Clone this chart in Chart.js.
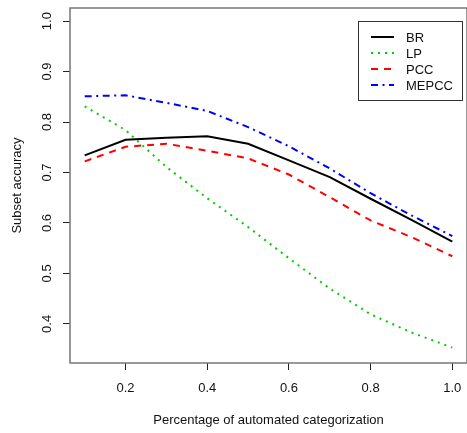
<!DOCTYPE html>
<html>
<head>
<meta charset="utf-8">
<script src="https://cdn.jsdelivr.net/npm/chart.js@4.4.1/dist/chart.umd.min.js"></script>
<style>
  body { margin: 0; background: #fff; }
  #wrap { width: 467px; height: 433px; position: relative; }
</style>
</head>
<body>
<div id="wrap"><canvas id="chart"></canvas></div>
<script>
// share of automated categorization on x
const xValues = [0.1, 0.2, 0.3, 0.4, 0.5, 0.6, 0.7, 0.8, 0.9, 1.0];
const brValues = [0.734, 0.765, 0.769, 0.772, 0.757, 0.724, 0.691, 0.648, 0.606, 0.563];
const lpValues = [0.831, 0.784, 0.711, 0.649, 0.592, 0.530, 0.470, 0.419, 0.383, 0.353];
const pccValues = [0.722, 0.751, 0.757, 0.743, 0.728, 0.696, 0.651, 0.605, 0.572, 0.534];
const mepccValues = [0.851, 0.853, 0.838, 0.822, 0.790, 0.752, 0.708, 0.659, 0.615, 0.574];
const seriesNames = ['BR', 'LP', 'PCC', 'MEPCC'];
const xTicks = [0.2, 0.4, 0.6, 0.8, 1.0];
const yTicks = [0.4, 0.5, 0.6, 0.7, 0.8, 0.9, 1.0];

const FONT = "'Liberation Sans', Arial, sans-serif";

function pts(ys) {
    return xValues.map((x, i) => ({x: x, y: ys[i]}));
}

const datasets = [
    {label: seriesNames[0], data: pts(brValues), borderColor: '#000000', borderWidth: 2, borderDash: []},
    {label: seriesNames[1], data: pts(lpValues), borderColor: '#00CD00', borderWidth: 2, borderDash: [2, 5]},
    {label: seriesNames[2], data: pts(pccValues), borderColor: '#FF0000', borderWidth: 2, borderDash: [7, 6]},
    {label: seriesNames[3], data: pts(mepccValues), borderColor: '#0000FF', borderWidth: 2, borderDash: [7, 4.5, 2, 4.5]}
];
datasets.forEach(d => { d.pointRadius = 0; d.fill = false; d.tension = 0; });

// R-style frame, rotated y labels, titles and legend box
const rStyle = {
    id: 'rStyle',
    afterDraw(chart) {
        const ctx = chart.ctx;
        const a = chart.chartArea;
        const ys = chart.scales.y;
        ctx.save();
        ctx.strokeStyle = '#777';
        ctx.lineWidth = 1.5;
        ctx.strokeRect(a.left, a.top, a.right - a.left, a.bottom - a.top);

        ctx.fillStyle = '#111';
        ctx.font = '13px ' + FONT;
        ctx.textAlign = 'center';
        ctx.textBaseline = 'middle';
        yTicks.forEach(v => {
            ctx.save();
            ctx.translate(47, ys.getPixelForValue(v));
            ctx.rotate(-Math.PI / 2);
            ctx.fillText(v.toFixed(1), 0, 0);
            ctx.restore();
        });

        ctx.fillText('Percentage of automated categorization', (a.left + a.right) / 2, 420);
        ctx.save();
        ctx.translate(17.5, (a.top + a.bottom) / 2);
        ctx.rotate(-Math.PI / 2);
        ctx.fillText('Subset accuracy', 0, 0);
        ctx.restore();

        // legend
        ctx.strokeStyle = '#333';
        ctx.lineWidth = 1;
        ctx.strokeRect(358.5, 21.5, 104, 79);
        chart.data.datasets.forEach((d, i) => {
            const y = 37 + 16 * i;
            ctx.save();
            ctx.strokeStyle = d.borderColor;
            ctx.lineWidth = d.borderWidth;
            ctx.setLineDash(d.borderDash);
            ctx.beginPath();
            ctx.moveTo(371, y);
            ctx.lineTo(394, y);
            ctx.stroke();
            ctx.restore();
            ctx.textAlign = 'left';
            ctx.fillText(d.label, 406, y + 1);
        });
        ctx.restore();
    }
};

new Chart(document.getElementById('chart'), {
    type: 'line',
    data: {datasets: datasets},
    options: {
        responsive: true,
        maintainAspectRatio: false,
        animation: false,
        layout: {padding: {top: 8, right: 0, left: 0, bottom: 0}},
        plugins: {legend: {display: false}, tooltip: {enabled: false}},
        scales: {
            x: {
                type: 'linear',
                min: 0.064,
                max: 1.036,
                afterBuildTicks: s => { s.ticks = xTicks.map(v => ({value: v})); },
                afterFit: s => { s.height = 70; s.paddingLeft = 0; s.paddingRight = 0; },
                border: {display: false},
                grid: {drawOnChartArea: false, drawTicks: true, tickLength: 7, color: '#222'},
                ticks: {
                    padding: 11,
                    color: '#111',
                    font: {family: FONT, size: 13},
                    maxRotation: 0,
                    callback: v => v.toFixed(1)
                }
            },
            y: {
                type: 'linear',
                min: 0.3225,
                max: 1.026,
                afterBuildTicks: s => { s.ticks = yTicks.map(v => ({value: v})); },
                afterFit: s => { s.width = 70; s.paddingTop = 0; s.paddingBottom = 0; },
                border: {display: false},
                grid: {drawOnChartArea: false, drawTicks: true, tickLength: 7, color: '#222'},
                ticks: {color: 'rgba(0,0,0,0)', font: {family: FONT, size: 13}, callback: v => v.toFixed(1)}
            }
        }
    },
    plugins: [rStyle]
});
</script>
</body>
</html>
